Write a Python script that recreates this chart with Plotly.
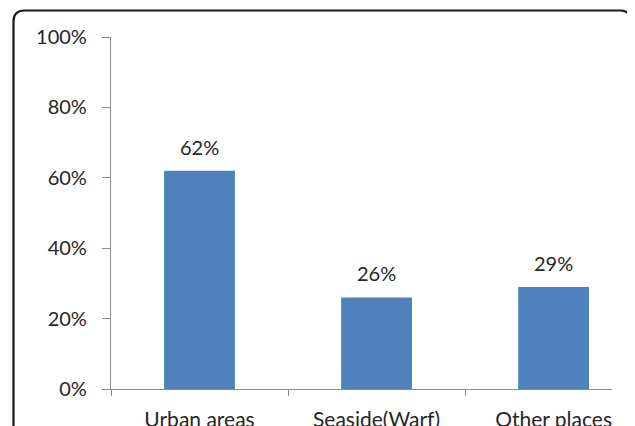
import plotly.graph_objects as go

categories = ["Urban areas", "Seaside(Warf)", "Other places"]
values = [62, 26, 29]
labels = ["62%", "26%", "29%"]
ytick_vals = [0, 20, 40, 60, 80, 100]
ytick_text = ["0%", "20%", "40%", "60%", "80%", "100%"]

OFF = 8  # page body margin
W, H = 635 - OFF, 426 - OFF
ML, MR, MT, MB = 111 - OFF, 23, 37 - OFF, 37
PW, PH = W - ML - MR, H - MT - MB

def px(x):
    return (x - OFF - ML) / PW

def py(y):
    return (426 - MB - y) / PH

FONT = "Lato"
TXT = "#262626"

fig = go.Figure()
fig.add_trace(go.Bar(
    x=categories, y=values,
    marker=dict(color="#4F81BD", line=dict(width=0)),
    width=0.40,
    hoverinfo="skip",
))

for c, v, t in zip(categories, values, labels):
    fig.add_annotation(x=c, y=v, text=t, showarrow=False, yanchor="bottom",
                       yshift=10, font=dict(family=FONT, size=20, color=TXT))

# rounded chart border
r = 11
x0, y0, x1, y1 = 13.5, 10.5, 631, 460
path = (f"M {px(x0)} {py(y1)} L {px(x0)} {py(y0 + r)} "
        f"Q {px(x0)} {py(y0)} {px(x0 + r)} {py(y0)} "
        f"L {px(x1 - r)} {py(y0)} Q {px(x1)} {py(y0)} {px(x1)} {py(y0 + r)} "
        f"L {px(x1)} {py(y1)}")
fig.add_shape(type="path", xref="paper", yref="paper", path=path,
              line=dict(color="#1a1a1a", width=2.2), layer="above")

fig.update_layout(
    width=W, height=H,
    margin=dict(l=ML, r=MR, t=MT, b=MB),
    paper_bgcolor="white", plot_bgcolor="white",
    showlegend=False,
    font=dict(family=FONT, size=20, color=TXT),
)
fig.update_yaxes(range=[0, 100], tickvals=ytick_vals, ticktext=ytick_text,
                 showgrid=False, zeroline=False, showline=True, automargin=False,
                 linecolor="#8c8c8c", linewidth=1.2,
                 ticks="outside", ticklen=8, tickcolor="#8c8c8c", tickwidth=1.2,
                 ticklabelstandoff=11,
                 tickfont=dict(family=FONT, size=20, color=TXT))
fig.update_xaxes(range=[-0.5, 2.33], showgrid=False, showline=True, automargin=False,
                 linecolor="#8c8c8c", linewidth=1.2,
                 ticks="outside", ticklen=6, tickcolor="#8c8c8c", tickwidth=1.2,
                 tickson="boundaries", ticklabelstandoff=12,
                 tickfont=dict(family=FONT, size=21, color=TXT))

fig.write_html("out.html")
